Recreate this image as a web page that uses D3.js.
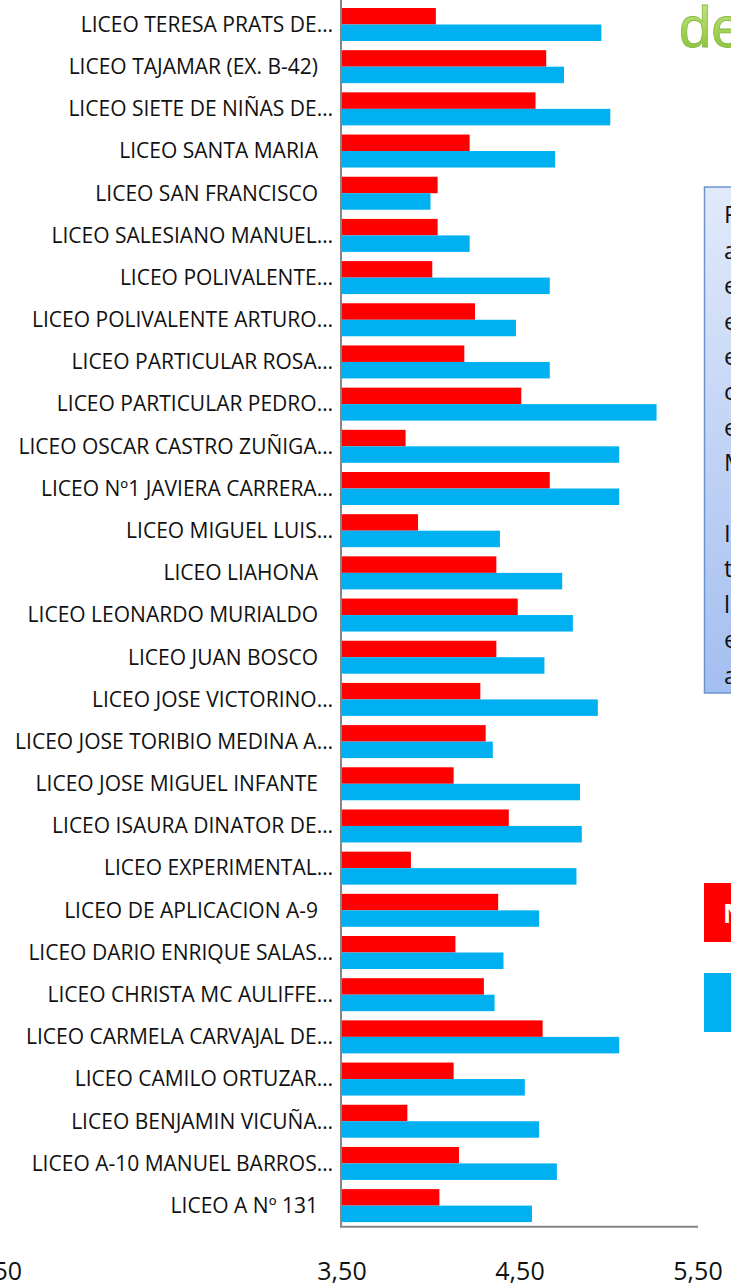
<!DOCTYPE html>
<html>
<head>
<meta charset="utf-8">
<script src="https://cdn.jsdelivr.net/npm/d3@7/dist/d3.min.js"></script>
<style>
  html, body { margin: 0; padding: 0; background: #fff; overflow: hidden; }
  svg { display: block; font-family: "Open Sans", sans-serif; }
</style>
</head>
<body>
<div id="chart"></div>
<script>
var svgWidth = 731;
var svgHeight = 1287;

// schools, top to bottom (a trailing space means the label was not cut)
var schools = [
  "LICEO TERESA PRATS DE…",
  "LICEO TAJAMAR (EX. B-42) ",
  "LICEO SIETE DE NIÑAS DE…",
  "LICEO SANTA MARIA ",
  "LICEO SAN FRANCISCO ",
  "LICEO SALESIANO MANUEL…",
  "LICEO POLIVALENTE…",
  "LICEO POLIVALENTE ARTURO…",
  "LICEO PARTICULAR ROSA…",
  "LICEO PARTICULAR PEDRO…",
  "LICEO OSCAR CASTRO ZUÑIGA…",
  "LICEO Nº1 JAVIERA CARRERA…",
  "LICEO MIGUEL LUIS…",
  "LICEO LIAHONA ",
  "LICEO LEONARDO MURIALDO ",
  "LICEO JUAN BOSCO ",
  "LICEO JOSE VICTORINO…",
  "LICEO JOSE TORIBIO MEDINA A…",
  "LICEO JOSE MIGUEL INFANTE ",
  "LICEO ISAURA DINATOR DE…",
  "LICEO EXPERIMENTAL…",
  "LICEO DE APLICACION A-9 ",
  "LICEO DARIO ENRIQUE SALAS…",
  "LICEO CHRISTA MC AULIFFE…",
  "LICEO CARMELA CARVAJAL DE…",
  "LICEO CAMILO ORTUZAR…",
  "LICEO BENJAMIN VICUÑA…",
  "LICEO A-10 MANUEL BARROS…",
  "LICEO A Nº 131 "
];

// red series
var redValues = [4.03, 4.65, 4.59, 4.22, 4.04, 4.04, 4.01, 4.25, 4.19, 4.51,
  3.86, 4.67, 3.93, 4.37, 4.49, 4.37, 4.28, 4.31, 4.13, 4.44,
  3.89, 4.38, 4.14, 4.30, 4.63, 4.13, 3.87, 4.16, 4.05];

// blue series
var blueValues = [4.96, 4.75, 5.01, 4.70, 4.00, 4.22, 4.67, 4.48, 4.67, 5.27,
  5.06, 5.06, 4.39, 4.74, 4.80, 4.64, 4.94, 4.35, 4.84, 4.85,
  4.82, 4.61, 4.41, 4.36, 5.06, 4.53, 4.61, 4.71, 4.57];

var xTicks = [3.5, 4.5, 5.5];

// text box on the right, only the first letter of each line is visible
var noteLines = ["P", "a", "e", "e", "e", "c", "e", "M", "", "I", "t", "l", "e", "a"];

var rows = schools.map(function(s, i) {
  return { name: s, red: redValues[i], blue: blueValues[i] };
});

var svg = d3.select("#chart")
  .append("svg")
  .attr("width", svgWidth)
  .attr("height", svgHeight);

var defs = svg.append("defs");

var boxGrad = defs.append("linearGradient")
  .attr("id", "boxGrad")
  .attr("x1", 0).attr("y1", 0).attr("x2", 0).attr("y2", 1);
boxGrad.append("stop").attr("offset", "0%").attr("stop-color", "#e1eafa");
boxGrad.append("stop").attr("offset", "100%").attr("stop-color", "#a3bef0");

var logoGrad = defs.append("linearGradient")
  .attr("id", "logoGrad")
  .attr("x1", 0).attr("y1", 0).attr("x2", 0).attr("y2", 1);
logoGrad.append("stop").attr("offset", "0%").attr("stop-color", "#cfe98f");
logoGrad.append("stop").attr("offset", "60%").attr("stop-color", "#9fd04f");
logoGrad.append("stop").attr("offset", "100%").attr("stop-color", "#84bd38");

// scales
var xScale = d3.scaleLinear()
  .domain([3.5, 5.5])
  .range([341.5, 697.5]);

var yScale = d3.scaleBand()
  .domain(schools)
  .range([3.4, 1226.7])
  .paddingInner(0.218)
  .paddingOuter(0.109);

var subScale = d3.scaleBand()
  .domain(["red", "blue"])
  .range([0, yScale.bandwidth()]);

var colors = { red: "#ff0000", blue: "#00b0f0" };

// bars
var groups = svg.append("g").selectAll("g")
  .data(rows)
  .enter()
  .append("g")
  .attr("transform", d => `translate(0, ${yScale(d.name)})`);

groups.selectAll("rect")
  .data(d => [{ key: "red", v: d.red }, { key: "blue", v: d.blue }])
  .enter()
  .append("rect")
  .attr("x", xScale(3.5))
  .attr("y", d => subScale(d.key))
  .attr("width", d => xScale(d.v) - xScale(3.5))
  .attr("height", subScale.bandwidth())
  .attr("fill", d => colors[d.key]);

// category labels
svg.append("g").selectAll("text")
  .data(schools)
  .enter()
  .append("text")
  .attr("x", d => d.endsWith(" ") ? 318 : 333)
  .attr("y", d => yScale(d) + yScale.bandwidth() / 2)
  .attr("dy", "0.35em")
  .attr("text-anchor", "end")
  .attr("font-size", "21px")
  .attr("fill", "#111")
  .text(d => d.trim());

// y axis line
svg.append("line")
  .attr("x1", 341).attr("x2", 341)
  .attr("y1", 0).attr("y2", 1227)
  .attr("stroke", "#868686")
  .attr("stroke-width", 2);

// x axis
var bottomAxis = d3.axisBottom(xScale)
  .tickValues(xTicks)
  .tickSize(0)
  .tickPadding(36)
  .tickFormat(d => d.toFixed(2).replace(".", ","));

var xAxis = svg.append("g")
  .attr("transform", "translate(0, 1226.7)")
  .call(bottomAxis);
xAxis.select(".domain")
  .attr("stroke", "#868686")
  .attr("stroke-width", 2)
  .attr("d", "M340,0H698");
xAxis.selectAll("text")
  .attr("font-size", "25px")
  .attr("font-family", "Open Sans, sans-serif")
  .attr("fill", "#111");

// cut-off label of a neighbouring axis at the far left
svg.append("text")
  .attr("x", 22)
  .attr("y", 1226.7 + 36)
  .attr("dy", "0.71em")
  .attr("text-anchor", "end")
  .attr("font-size", "25px")
  .attr("fill", "#111")
  .text("2,50");

// logo fragment
svg.append("text")
  .attr("x", 679)
  .attr("y", 47)
  .attr("font-family", "Liberation Sans, Arial, sans-serif")
  .attr("font-size", "58px")
  .attr("fill", "url(#logoGrad)")
  .attr("stroke", "#86b847")
  .attr("stroke-width", 0.8)
  .text("de");

// note box
svg.append("rect")
  .attr("x", 704.5)
  .attr("y", 187)
  .attr("width", 60)
  .attr("height", 506)
  .attr("fill", "url(#boxGrad)")
  .attr("stroke", "#6e93cb")
  .attr("stroke-width", 1.5);

svg.append("g").selectAll("text")
  .data(noteLines)
  .enter()
  .append("text")
  .attr("x", 724)
  .attr("y", (d, i) => 215 + i * 35.4)
  .attr("dy", "0.35em")
  .attr("font-size", "24px")
  .attr("fill", "#111")
  .text(d => d);

// legend fragment
svg.append("rect")
  .attr("x", 704).attr("y", 883)
  .attr("width", 40).attr("height", 59)
  .attr("fill", colors.red);
svg.append("text")
  .attr("x", 723).attr("y", 923)
  .attr("font-size", "26px")
  .attr("font-weight", "bold")
  .attr("fill", "#fff")
  .text("N");
svg.append("rect")
  .attr("x", 704).attr("y", 973)
  .attr("width", 40).attr("height", 59)
  .attr("fill", colors.blue);
</script>
</body>
</html>
